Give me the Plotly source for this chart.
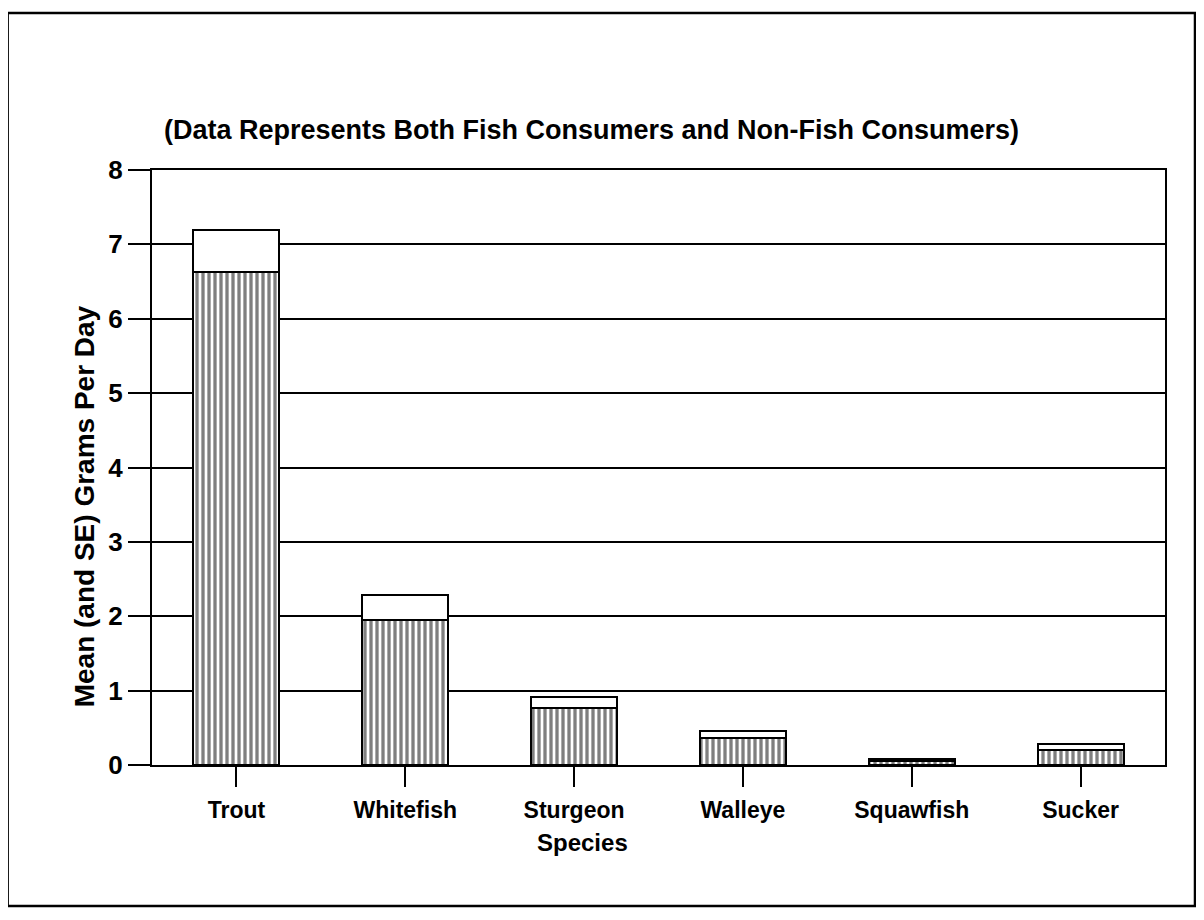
import plotly.graph_objects as go

species = ["Trout", "Whitefish", "Sturgeon", "Walleye", "Squawfish", "Sucker"]
mean_vals = [6.63, 1.95, 0.77, 0.36, 0.05, 0.20]
se_vals = [0.56, 0.33, 0.15, 0.10, 0.03, 0.08]
y_ticks = [0, 1, 2, 3, 4, 5, 6, 7, 8]

FONT = "Liberation Sans, Arial, sans-serif"

fig = go.Figure()
fig.add_trace(go.Bar(
    x=species, y=mean_vals, name="Mean",
    width=0.51,
    marker=dict(
        color="white",
        line=dict(color="black", width=2),
        pattern=dict(shape="|", size=6, solidity=0.55, fgcolor="black", bgcolor="white"),
    ),
))
fig.add_trace(go.Bar(
    x=species, y=se_vals, name="SE",
    width=0.51,
    marker=dict(color="white", line=dict(color="black", width=2)),
))

fig.update_layout(
    barmode="stack",
    width=1188, height=904,
    margin=dict(l=144, r=31, t=162, b=147),
    paper_bgcolor="white", plot_bgcolor="white",
    showlegend=False,
    font=dict(family=FONT, color="black"),
    xaxis=dict(
        showline=True, linecolor="black", linewidth=2, mirror=True,
        ticks="outside", ticklen=20, tickwidth=1.5, tickcolor="black",
        tickfont=dict(size=23, family=FONT, color="black", weight="bold"),
        ticklabelstandoff=3,
        showgrid=False,
    ),
    yaxis=dict(
        range=[0, 8], tickvals=y_ticks,
        showline=True, linecolor="black", linewidth=2, mirror=True,
        ticks="outside", ticklen=22, tickwidth=1.5, tickcolor="black",
        tickfont=dict(size=26, family=FONT, color="black", weight="bold"),
        showgrid=True, gridcolor="black", gridwidth=1.5,
        zeroline=False,
    ),
    annotations=[
        dict(text="(Data Represents Both Fish Consumers and Non-Fish Consumers)",
             xref="paper", yref="paper", x=0.434, y=1.067, xanchor="center", yanchor="middle",
             showarrow=False, font=dict(size=27, family=FONT, color="black", weight="bold")),
        dict(text="Mean (and SE) Grams Per Day",
             xref="paper", yref="paper", x=-0.067, y=0.435, xanchor="center", yanchor="middle",
             textangle=-90, showarrow=False,
             font=dict(size=28, family=FONT, color="black", weight="bold")),
        dict(text="Species",
             xref="paper", yref="paper", x=0.425, y=-0.131, xanchor="center", yanchor="middle",
             showarrow=False, font=dict(size=24, family=FONT, color="black", weight="bold")),
    ],
    shapes=[
        dict(type="rect", xref="paper", yref="paper",
             x0=-0.1425, x1=1.0296, y0=-0.237, y1=1.264,
             line=dict(color="black", width=2.5)),
    ],
)

fig.write_html("out.html")
